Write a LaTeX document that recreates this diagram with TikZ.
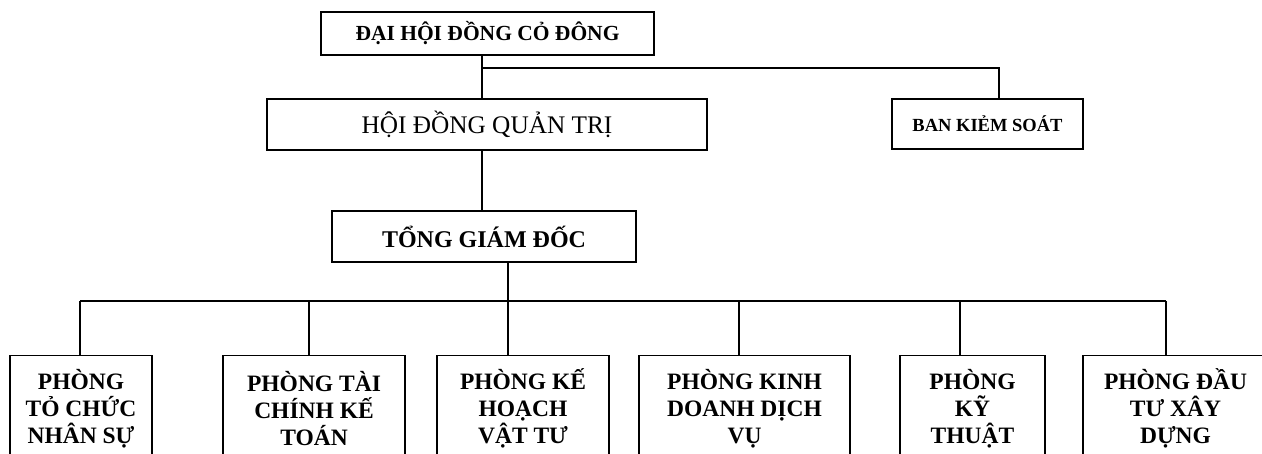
\documentclass[tikz,border=0pt]{standalone}
\usepackage{fontspec}
\setmainfont{Liberation Serif}
\begin{document}
\begin{tikzpicture}[x=1pt,y=-1pt,
  box/.style={draw,line width=1.5pt,inner sep=0pt,align=center,font=\bfseries},
  dept/.style={box,anchor=north,minimum height=106pt,font=\bfseries\fontsize{23.5}{27}\selectfont},
  link/.style={line width=1.5pt}]
\path[use as bounding box] (0,0) rectangle (1262,454);
\clip (0,0) rectangle (1262,454);
% top levels
\node[box,minimum width=333pt,minimum height=43pt,font=\bfseries\fontsize{21.5}{25}\selectfont] (dh) at (487.5,33.5) {ĐẠI HỘI ĐỒNG CỎ ĐÔNG};
\node[box,minimum width=440pt,minimum height=51pt,font=\fontsize{25.3}{29}\selectfont] (hd) at (487,124.5) {HỘI ĐỒNG QUẢN TRỊ};
\node[box,minimum width=191pt,minimum height=50pt,font=\bfseries\fontsize{18.5}{22}\selectfont] (bks) at (987.5,124) {BAN KIẺM SOÁT};
\node[box,minimum width=304pt,minimum height=51pt,font=\bfseries\fontsize{24}{28}\selectfont] (tgd) at (484,236.5) {TỔNG GIÁM ĐỐC};
% departments
\node[dept,minimum width=142pt] (p1) at (81,355) {PHÒNG\\TỎ CHỨC\\NHÂN SỰ};
\node[dept,minimum width=182pt] (p2) at (314,355) {PHÒNG TÀI\\CHÍNH KẾ\\TOÁN};
\node[dept,minimum width=172pt] (p3) at (523,355) {PHÒNG KẾ\\HOẠCH\\VẬT TƯ};
\node[dept,minimum width=211pt] (p4) at (744.5,355) {PHÒNG KINH\\DOANH DỊCH\\VỤ};
\node[dept,minimum width=145pt] (p5) at (972.5,355) {PHÒNG\\KỸ\\THUẬT};
\node[dept,minimum width=185pt] (p6) at (1175.5,355) {PHÒNG ĐẦU\\TƯ XÂY\\DỰNG};
% junctions
\coordinate (j1) at (482,68);
\coordinate (j2) at (999,68);
\coordinate (j3) at (482,180);
\coordinate (bus) at (508,301);
\coordinate (d1) at (80,301);
\coordinate (d2) at (309,301);
\coordinate (d3) at (508,301);
\coordinate (d4) at (739,301);
\coordinate (d5) at (960,301);
\coordinate (d6) at (1166,301);
% connectors
\draw[link] (dh.south -| j1) -- (hd.north -| j1);
\draw[link] (j1) -- (j2) -- (bks.north -| j2);
\draw[link] (hd.south -| j3) -- (tgd.north -| j3);
\draw[link] (tgd.south -| bus) -- (bus);
\draw[link] (d1) -- (d6);
\foreach \i in {1,...,6} {\draw[link] (d\i) -- (p\i.north -| d\i);}
\end{tikzpicture}
\end{document}
